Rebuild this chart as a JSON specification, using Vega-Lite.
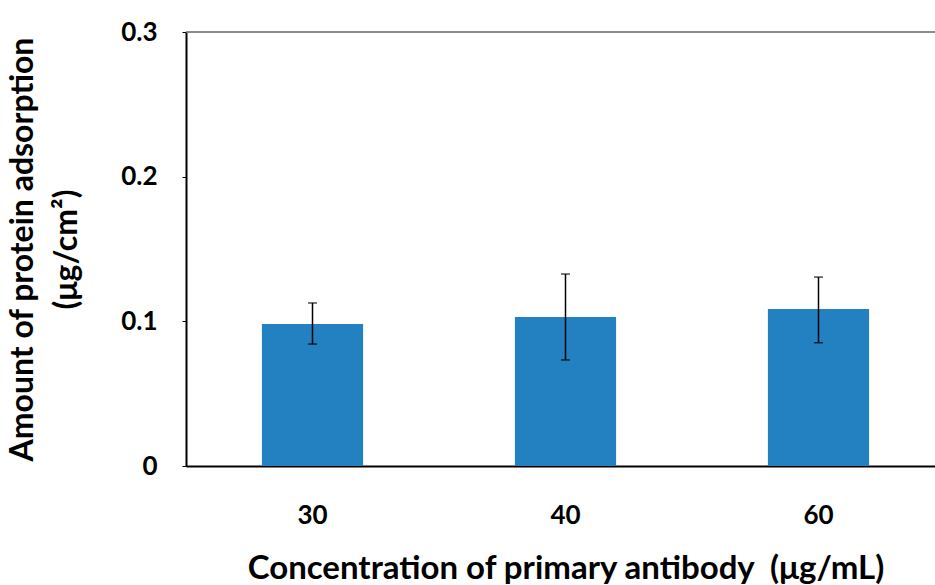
{
  "$schema": "https://vega.github.io/schema/vega-lite/v6.json",
  "width": 749,
  "height": 434,
  "autosize": {"type": "none"},
  "padding": {"left": 186, "top": 32, "right": 0, "bottom": 119},
  "background": "white",
  "config": {"view": {"stroke": null}, "font": "Lato"},
  "data": {"values": [
    {"conc": "30", "mean": 0.0982, "lo": 0.0843, "hi": 0.1127},
    {"conc": "40", "mean": 0.1030, "lo": 0.0733, "hi": 0.1327},
    {"conc": "60", "mean": 0.1085, "lo": 0.0852, "hi": 0.1306}
  ]},
  "layer": [
    {
      "mark": {"type": "bar", "color": "#2381c1"},
      "encoding": {
        "x": {
          "field": "conc", "type": "nominal",
          "scale": {"range": [0, 759], "paddingInner": 0.6, "paddingOuter": 0.3},
          "axis": {
            "title": "Concentration of primary antibody\u00a0 (μg/mL)",
            "titleFontSize": 33, "titleFontWeight": "bold", "titleColor": "black", "titlePadding": 24,
            "labelAngle": 0, "labelFontSize": 26, "labelFontWeight": "bold", "labelColor": "black", "labelPadding": 36,
            "ticks": false, "domainColor": "black", "domainWidth": 2
          }
        },
        "y": {
          "field": "mean", "type": "quantitative",
          "scale": {"domain": [0, 0.3], "nice": false},
          "axis": {
            "values": [0, 0.1, 0.2, 0.3], "format": "~g", "grid": false,
            "title": ["Amount of protein adsorption", "(μg/cm²)"],
            "titleFontSize": 32, "titleFontWeight": "bold", "titleColor": "black", "titlePadding": 37, "titleLineHeight": 44,
            "labelFontSize": 26, "labelFontWeight": "bold", "labelColor": "black", "labelPadding": 25,
            "tickColor": "black", "tickSize": 4, "tickWidth": 1,
            "domainColor": "black", "domainWidth": 2
          }
        }
      }
    },
    {
      "mark": {"type": "rule", "color": "black", "strokeWidth": 1.5},
      "encoding": {
        "x": {"field": "conc", "type": "nominal"},
        "y": {"field": "lo", "type": "quantitative"},
        "y2": {"field": "hi"}
      }
    },
    {
      "mark": {"type": "tick", "color": "black", "thickness": 1.5, "size": 9},
      "encoding": {
        "x": {"field": "conc", "type": "nominal"},
        "y": {"field": "lo", "type": "quantitative"}
      }
    },
    {
      "mark": {"type": "tick", "color": "black", "thickness": 1.5, "size": 9},
      "encoding": {
        "x": {"field": "conc", "type": "nominal"},
        "y": {"field": "hi", "type": "quantitative"}
      }
    },
    {
      "data": {"values": [{}]},
      "mark": {"type": "rule", "color": "#666666", "strokeWidth": 1.5},
      "encoding": {"y": {"datum": 0.3}}
    }
  ]
}
